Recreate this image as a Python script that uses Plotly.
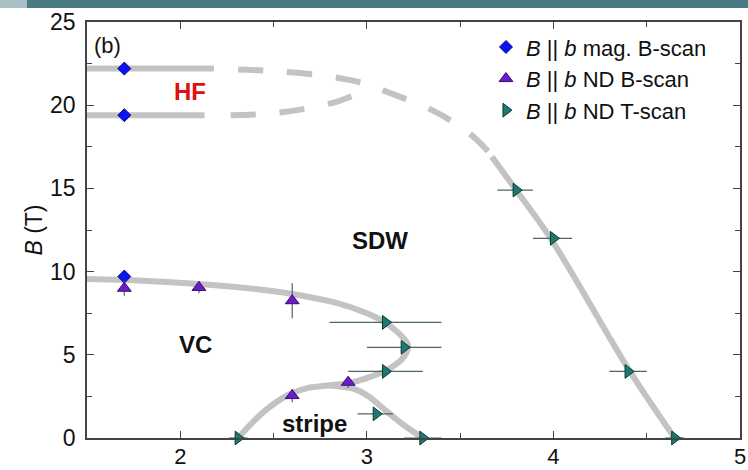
import plotly.graph_objects as go

# ---- data ----
mag_T = [1.7, 1.7, 1.7]
mag_B = [22.2, 19.4, 9.7]

ndB_T = [1.7, 2.1, 2.6, 2.6, 2.9]
ndB_B = [9.0, 9.05, 8.25, 2.55, 3.35]
ndB_err = [0.45, 0.35, 1.05, 0.4, 0.35]

ndT_T = [2.31, 3.10, 3.20, 3.10, 3.05, 3.30, 3.80, 4.00, 4.40, 4.65]
ndT_B = [0.0, 6.95, 5.45, 4.0, 1.45, 0.0, 14.9, 12.0, 4.0, 0.0]
ndT_errm = [0.05, 0.30, 0.20, 0.20, 0.10, 0.10, 0.10, 0.11, 0.10, 0.05]
ndT_errp = [0.05, 0.30, 0.20, 0.20, 0.09, 0.10, 0.09, 0.10, 0.10, 0.05]

# phase boundaries
hf_up_solid_T = [1.5, 2.18]
hf_up_solid_B = [22.2, 22.2]
hf_lo_solid_T = [1.5, 2.13]
hf_lo_solid_B = [19.4, 19.4]
hf_up_dash_T = [2.31, 2.5, 2.75, 2.97, 3.12, 3.35, 3.55, 3.68]
hf_up_dash_B = [22.15, 22.05, 21.8, 21.35, 20.75, 19.7, 18.3, 16.85]
hf_lo_dash_T = [2.27, 2.45, 2.65, 2.85, 3.0]
hf_lo_dash_B = [19.4, 19.47, 19.75, 20.25, 20.95]
sdw_T = [3.67, 3.8, 3.985, 4.41, 4.65]
sdw_B = [16.9, 14.9, 12.0, 4.0, 0.0]
vc_T = [1.5, 1.8, 2.1, 2.4, 2.6, 2.86, 3.0, 3.09, 3.17, 3.22, 3.2, 3.11, 3.0, 2.9, 2.79, 2.68, 2.58, 2.45, 2.31]
vc_B = [9.55, 9.45, 9.25, 8.95, 8.65, 8.05, 7.5, 7.0, 6.3, 5.6, 4.9, 4.1, 3.6, 3.3, 3.15, 3.0, 2.6, 1.6, 0.0]
stripe_T = [2.8, 2.93, 3.01, 3.08, 3.15, 3.22, 3.30]
stripe_B = [3.15, 2.95, 2.5, 1.85, 1.2, 0.6, 0.0]

labels_text = ["(b)", "<b>HF</b>", "<b>SDW</b>", "<b>VC</b>", "<b>stripe</b>"]
labels_T = [1.61, 2.05, 3.07, 2.08, 2.72]
labels_B = [23.6, 20.85, 11.85, 5.6, 0.85]
labels_col = ["#111", "#e01010", "#111", "#111", "#111"]
labels_size = [22, 24, 24, 24, 24]

legend_names = ["<i>B</i> || <i>b</i> mag. B-scan",
                "<i>B</i> || <i>b</i> ND B-scan",
                "<i>B</i> || <i>b</i> ND T-scan"]

FONT = "Liberation Sans, Arial"
LINE_C = "#c3c3c3"
LW = 6
ERR_C = "#4d6666"

fig = go.Figure()

def gline(x, y, dash="solid"):
    fig.add_trace(go.Scatter(x=x, y=y, mode="lines", line=dict(color=LINE_C, width=LW, shape="spline", dash=dash),
                             showlegend=False, hoverinfo="skip"))

gline(hf_up_solid_T, hf_up_solid_B)
gline(hf_lo_solid_T, hf_lo_solid_B)
gline(hf_up_dash_T, hf_up_dash_B, dash="25px,24px")
gline(hf_lo_dash_T, hf_lo_dash_B, dash="25px,24px")
gline(sdw_T, sdw_B)
gline(vc_T, vc_B)
gline(stripe_T, stripe_B)

fig.add_trace(go.Scatter(x=mag_T, y=mag_B, mode="markers", name=legend_names[0],
                         marker=dict(symbol="diamond", size=10, color="#0a14f0", line=dict(color="#0a0a90", width=1))))
fig.add_trace(go.Scatter(x=ndB_T, y=ndB_B, mode="markers", name=legend_names[1],
                         error_y=dict(type="data", array=ndB_err, color=ERR_C, thickness=1.2, width=0),
                         marker=dict(symbol="triangle-up", size=12, color="#6d1ccc", line=dict(color="#3a0a70", width=1))))
fig.add_trace(go.Scatter(x=ndT_T, y=ndT_B, mode="markers", name=legend_names[2], cliponaxis=False,
                         error_x=dict(type="data", symmetric=False, array=ndT_errp, arrayminus=ndT_errm,
                                      color=ERR_C, thickness=1.2, width=0),
                         marker=dict(symbol="triangle-right", size=12, color="#1d7a72", line=dict(color="#0b3a36", width=1))))

for t, x, y, c, s in zip(labels_text, labels_T, labels_B, labels_col, labels_size):
    fig.add_annotation(x=x, y=y, text=t, showarrow=False, font=dict(size=s, color=c, family=FONT))

# banner at top
fig.add_shape(type="rect", xref="paper", yref="paper", x0=-0.0919, x1=1.02, y0=1.0337, y1=1.06,
              fillcolor="#477c83", line=dict(width=0), layer="above")
fig.add_shape(type="rect", xref="paper", yref="paper", x0=-0.14, x1=-0.0919, y0=1.0337, y1=1.06,
              fillcolor="#a9c1c5", line=dict(width=0), layer="above")

axis_common = dict(showgrid=False, zeroline=False, showline=True, linecolor="#444", linewidth=1.5,
                   mirror="ticks", ticks="inside", ticklen=7, tickwidth=1.2, tickcolor="#444",
                   automargin=False)

fig.update_xaxes(range=[1.5, 5], dtick=1, tick0=0, ticklabelstandoff=-2,
                 tickfont=dict(size=22, color="#111", family=FONT),
                 minor=dict(dtick=0.5, ticks="inside", ticklen=5, tickcolor="#444", tickwidth=1.2),
                 **axis_common)
fig.update_yaxes(range=[0, 25], dtick=5, tick0=0, ticklabelstandoff=5,
                 tickfont=dict(size=23, color="#111", family=FONT),
                 minor=dict(dtick=2.5, ticks="inside", ticklen=5, tickcolor="#444", tickwidth=1.2),
                 title=dict(text="<i>B</i> (T)", font=dict(size=23, color="#111", family=FONT), standoff=1),
                 **axis_common)

fig.update_layout(
    width=748, height=470,
    margin=dict(l=87, r=8, t=22, b=32),
    plot_bgcolor="white", paper_bgcolor="white",
    font=dict(family=FONT, color="#111"),
    legend=dict(x=0.611, y=0.99, xanchor="left", yanchor="top", bgcolor="rgba(0,0,0,0)",
                font=dict(size=22, color="#111"), tracegroupgap=0, itemwidth=30),
)

fig.write_html("out.html", config={"displayModeBar": False},
               post_script="document.body.style.margin='0px';document.body.style.overflow='hidden';")
